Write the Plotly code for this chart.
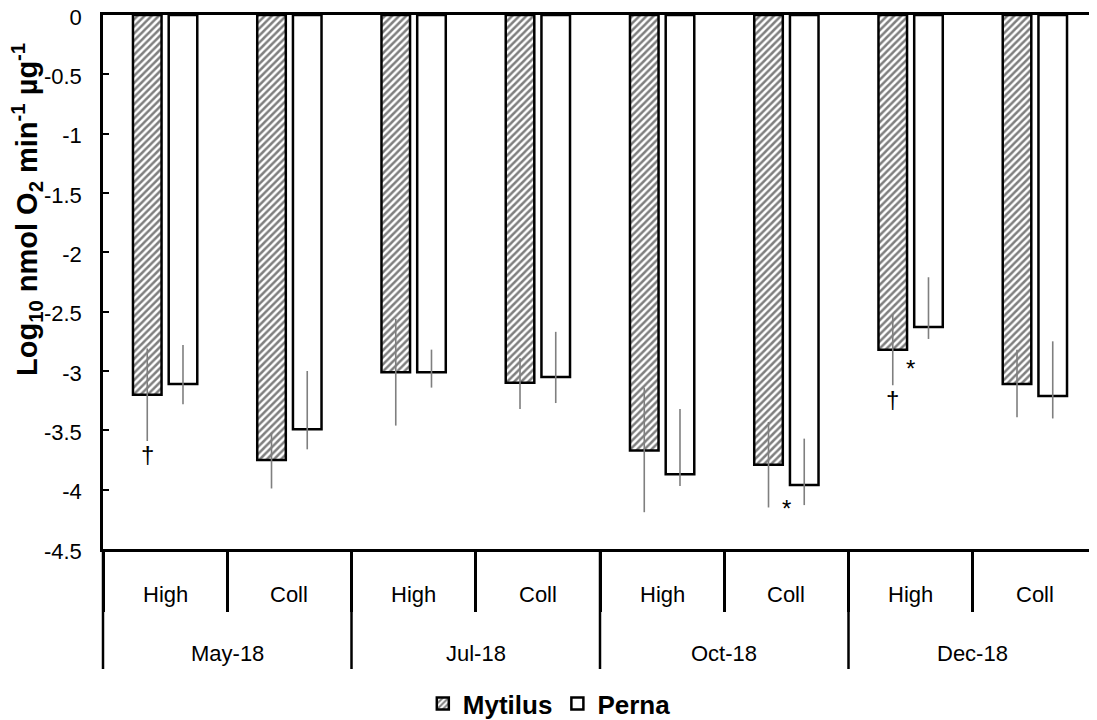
import plotly.graph_objects as go

months = ["May-18", "May-18", "Jul-18", "Jul-18", "Oct-18", "Oct-18", "Dec-18", "Dec-18"]
sites = ["High", "Coll", "High", "Coll", "High", "Coll", "High", "Coll"]
month_labels = ["May-18", "Jul-18", "Oct-18", "Dec-18"]

mytilus = [-3.20, -3.75, -3.01, -3.10, -3.67, -3.79, -2.82, -3.11]
mytilus_err_up = [0.39, 0.23, 0.45, 0.21, 0.53, 0.36, 0.30, 0.29]
mytilus_err_down = [0.39, 0.24, 0.45, 0.22, 0.52, 0.36, 0.30, 0.28]

perna = [-3.11, -3.49, -3.01, -3.05, -3.87, -3.96, -2.63, -3.21]
perna_err_up = [0.33, 0.49, 0.19, 0.38, 0.55, 0.39, 0.42, 0.46]
perna_err_down = [0.17, 0.17, 0.13, 0.22, 0.10, 0.17, 0.10, 0.19]

y_ticks = [0, -0.5, -1, -1.5, -2, -2.5, -3, -3.5, -4, -4.5]
y_tick_labels = ["0", "-0.5", "-1", "-1.5", "-2", "-2.5", "-3", "-3.5", "-4", "-4.5"]

# significance marks: (category index, position, symbol, y value)
marks = [
    (0, "mytilus", "†", -3.70),
    (5, "gap", "*", -4.16),
    (6, "mytilus", "†", -3.24),
    (6, "gap", "*", -2.98),
]

FONT = "Liberation Sans, Arial, sans-serif"
TICK_SIZE = 22
BOLD_SIZE = 26
x = [months, sites]
n = len(sites)

fig = go.Figure()
fig.add_trace(go.Bar(
    name="Mytilus", x=x, y=mytilus,
    marker=dict(color="white", line=dict(color="black", width=2.5),
                pattern=dict(shape="/", fgcolor="black", bgcolor="white", size=5, solidity=0.5)),
    error_y=dict(type="data", array=mytilus_err_up, arrayminus=mytilus_err_down,
                 color="#7f7f7f", thickness=1.6, width=0),
))
fig.add_trace(go.Bar(
    name="Perna", x=x, y=perna,
    marker=dict(color="white", line=dict(color="black", width=2.5)),
    error_y=dict(type="data", array=perna_err_up, arrayminus=perna_err_down,
                 color="#7f7f7f", thickness=1.6, width=0),
))

for idx, which, sym, yv in marks:
    shift = -17.8 if which == "mytilus" else (17.8 if which == "perna" else 0)
    fig.add_annotation(x=idx, y=yv, xref="x", yref="y", text=sym, showarrow=False,
                       xshift=shift, font=dict(family=FONT, size=24, color="black"))

# inner (site) labels
for i, s in enumerate(sites):
    fig.add_annotation(x=(i + 0.5) / n, y=0, xref="paper", yref="paper", text=s,
                       showarrow=False, yshift=-45, yanchor="middle", xanchor="center",
                       font=dict(family=FONT, size=TICK_SIZE, color="black"))
# outer (month) labels and dividers
g = n // len(month_labels)
for j, m in enumerate(month_labels):
    fig.add_annotation(x=(j * g + g / 2) / n, y=0, xref="paper", yref="paper", text=m,
                       showarrow=False, yshift=-104, yanchor="middle", xanchor="center",
                       font=dict(family=FONT, size=TICK_SIZE, color="black"))
plot_h = 712 - 7 - 171
for j in range(len(month_labels) + 1):
    xp = j * g / n
    fig.add_shape(type="line", xref="paper", yref="paper", x0=xp, x1=xp,
                  y0=0, y1=-120 / plot_h, line=dict(color="black", width=2.5))

fig.add_annotation(
    text="Log<sub>10</sub> nmol O<sub>2</sub> min<sup>-1</sup> µg<sup>-1</sup>",
    xref="paper", yref="paper", x=0, y=(plot_h - (210 - 15)) / plot_h,
    xshift=-76, textangle=-90, showarrow=False, xanchor="center", yanchor="middle",
    font=dict(family=FONT, size=29, color="black", weight="bold"),
)

fig.update_layout(
    width=1089, height=712,
    margin=dict(l=95, r=0, t=7, b=171, autoexpand=False),
    paper_bgcolor="white", plot_bgcolor="white",
    barmode="group", bargap=0.425, bargroupgap=0.2,
    font=dict(family=FONT, size=TICK_SIZE, color="black"),
    showlegend=True,
    legend=dict(orientation="h", x=0.449, xanchor="center",
                yref="container", y=0.023, yanchor="middle",
                font=dict(family=FONT, size=BOLD_SIZE, color="black", weight="bold"),
                itemwidth=30, tracegroupgap=0),
)
fig.update_xaxes(
    type="multicategory", showline=True, linecolor="black", linewidth=2.5, mirror=True,
    ticks="outside", ticklen=60, tickwidth=2.5, tickcolor="black",
    showticklabels=False, showdividers=False, automargin=False,
    showgrid=False, zeroline=False,
)
fig.update_yaxes(
    range=[-4.5, 0], tickvals=y_ticks, ticktext=y_tick_labels,
    showline=True, linecolor="black", linewidth=2.5, mirror=False,
    ticks="inside", ticklen=6, tickwidth=2, tickcolor="black",
    ticklabelstandoff=14, ticklabelshift=2, ticklabeloverflow="allow", automargin=False,
    showgrid=False, zeroline=False,
    tickfont=dict(family=FONT, size=TICK_SIZE, color="black"),
)

fig.write_html("out.html")
